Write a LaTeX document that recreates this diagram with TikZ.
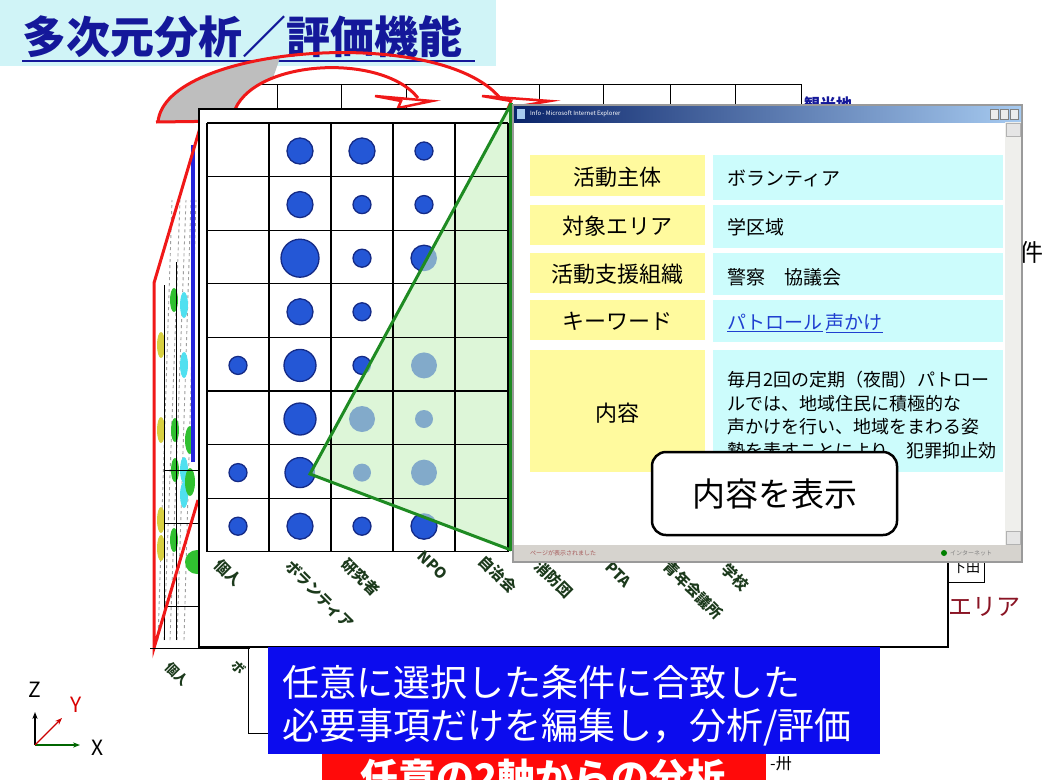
\documentclass[tikz,border=0pt]{standalone}
\usepackage{fontspec}
\setmainfont{Noto Sans CJK JP}
\usetikzlibrary{arrows.meta}
\definecolor{titleband}{HTML}{D0F4F7}
\definecolor{titlecol}{HTML}{14189A}
\definecolor{ribred}{HTML}{F01818}
\definecolor{ribgray}{HTML}{BEBEBE}
\definecolor{sideblue}{HTML}{2424DC}
\definecolor{bubblue}{HTML}{2457D6}
\definecolor{bubedge}{HTML}{142A86}
\definecolor{fadeblue}{HTML}{82AACA}
\definecolor{greenfill}{HTML}{DDF6D8}
\definecolor{greenline}{HTML}{1E8B22}
\definecolor{labgreen}{HTML}{1C3A1C}
\definecolor{tabyellow}{HTML}{FFFA9E}
\definecolor{tabcyan}{HTML}{CCFCFC}
\definecolor{linkblue}{HTML}{1F3FD0}
\definecolor{bluebox}{HTML}{0C0CEE}
\definecolor{redbox}{HTML}{FF0A0A}
\definecolor{wingray}{HTML}{9A9A9A}
\definecolor{statusgray}{HTML}{D6D3CE}
\definecolor{tbdark}{HTML}{0A246A}
\definecolor{tblight}{HTML}{A6CAF0}
\definecolor{scrollgray}{HTML}{EFEFEC}
\definecolor{darkred}{HTML}{8A1424}
\definecolor{yblob}{HTML}{D8D040}
\definecolor{gblob}{HTML}{30C030}
\definecolor{cblob}{HTML}{50E0F0}
\newcommand{\jfs}[2]{\fontsize{#1}{#2}\selectfont}
\begin{document}
\begin{tikzpicture}[x=1pt,y=-1pt,
  bub/.style={fill=bubblue,draw=bubedge,line width=1.3pt},
  fbub/.style={fill=fadeblue},
  collab/.style={rotate=-45,anchor=north west,inner sep=0pt,font=\jfs{15}{15}\bfseries,text=labgreen},
  backlab/.style={rotate=-45,anchor=north west,inner sep=0pt,font=\jfs{13}{13}\bfseries,text=labgreen},
  ylw/.style={fill=tabyellow},
  cyn/.style={fill=tabcyan},
  ylwtxt/.style={font=\jfs{22}{26},anchor=center,inner sep=0pt},
  cyntxt/.style={font=\jfs{19}{22},anchor=west,inner sep=0pt},
  gridln/.style={draw=black,line width=1.3pt},
  redln/.style={draw=ribred,line width=3pt},
  arrowhd/.style={fill=white,draw=ribred,line width=2.5pt,line join=miter},
]
\useasboundingbox (0,0) rectangle (1052,780);
\fill[white] (0,0) rectangle (1052,780);

% title band
\fill[titleband] (0,0) rectangle (496,66);
\node[font=\jfs{44}{48}\bfseries,text=titlecol,anchor=west,inner sep=0pt] (title) at (22,37) {多次元分析／評価機能};
\draw[titlecol,line width=1.6pt] (22,61) -- (475,61);

% back top strip
\draw[line width=1pt] (250,84) -- (801,84);
\foreach \x in {277,341,406,539,603,670,735,801} \draw[line width=1pt] (\x,84) -- (\x,109);
\node[font=\jfs{16}{16}\bfseries,text=titlecol,anchor=west,inner sep=0pt] (kanko) at (804,104) {観光地};

% curved 3D arrows
\begin{scope}
\clip (0,0) -- (300,0) -- (255,130) -- (0,130) -- cycle;
\fill[ribgray] (158,122) .. controls (165,45) and (440,25) .. (500,98) -- (418,98) .. controls (380,50) and (240,60) .. (232,120) -- cycle;
\end{scope}
\draw[redln] (158,122) .. controls (165,45) and (440,25) .. (500,98);
\draw[redln] (232,120) .. controls (240,60) and (380,50) .. (418,98);
\draw[redln] (156,122) -- (232,121);
\filldraw[arrowhd] (482,96) -- (550,101) -- (508,108) -- (511,101) -- cycle;
\filldraw[arrowhd] (375,96) -- (432,101) -- (398,108) -- (401,101) -- cycle;

% left side panel
\foreach \a/\b in {158/172,164/180,170/186,177/191,184/196}
  \draw[gray!75,dashed,line width=0.9pt] (\a,640) -- (\b,200);
\foreach \p in {(161,345),(161,430),(161,520),(161,548)} \fill[yblob] \p ellipse (4 and 13);
\foreach \p in {(174,300),(175,430),(175,470),(174,540)} \fill[gblob] \p ellipse (4 and 12);
\foreach \p in {(184,305),(184,365),(184,470),(184,495)} \fill[cblob] \p ellipse (4 and 13);
\foreach \p in {(190,440),(190,482)} \fill[gblob] \p ellipse (5 and 14);
\draw[line width=1pt] (164,285) -- (164,640);
\draw[line width=1pt] (176,262) -- (176,640);
\foreach \y in {470,523,606} \draw[line width=1pt] (164,\y) -- (199,\y);
\fill[gblob] (197,562) circle (12);
\draw[sideblue,line width=4pt] (193,145) -- (193,462);
\draw[redln] (200,128) -- (154,283) -- (154,648) -- (198,500);
\draw[line width=1pt] (150,648) -- (250,648);

% back panel remnants bottom
\draw[line width=1pt] (248,647) -- (248,733) -- (272,733);
\node[backlab] (bl1) at (172,660) {個人};
\node[backlab] (bl2) at (238,658) {ボ};

% right side back fragments
\draw[line width=1pt] (948,548) rectangle (984,582);
\node[font=\jfs{14}{14},anchor=center,inner sep=0pt] (shimoda) at (966,568) {下田};
\node[font=\jfs{24}{24},text=darkred,anchor=west,inner sep=0pt] (area) at (948,607) {エリア};
\node[font=\jfs{24}{24},anchor=center,inner sep=0pt] (ken) at (1031,252) {件};

% front panel
\filldraw[fill=white,draw=black,line width=1.2pt] (199,109) rectangle (948,647);
\foreach \x in {207,269,331,393,455,508} \draw[gridln] (\x,123) -- (\x,552);
\foreach \y in {123,176.6,230.2,283.8,337.4,391,444.6,498.2,551.8} \draw[gridln] (207,\y) -- (508,\y);
\foreach \c/\r/\s in {2/1/13,3/1/13,4/1/9,2/2/13,3/2/9,4/2/9,2/3/19,3/3/9,4/3/13,2/4/13,3/4/9,1/5/9,2/5/16,3/5/9,4/5/13,2/6/16,3/6/13,4/6/9,1/7/9,2/7/15,3/7/9,4/7/13,1/8/9,2/8/13,3/8/9,4/8/13}
  \filldraw[bub] ({238+(\c-1)*62},{151+(\r-1)*53.6}) circle (\s);
% green selection overlay
\begin{scope}
\clip (310,474) -- (511,104) -- (511,550) -- cycle;
\fill[greenfill] (200,100) rectangle (520,560);
\foreach \x in {269,331,393,455,508} \draw[gridln] (\x,123) -- (\x,552);
\foreach \y in {123,176.6,230.2,283.8,337.4,391,444.6,498.2,551.8} \draw[gridln] (207,\y) -- (508,\y);
\foreach \c/\r/\s in {2/1/13,3/1/13,4/1/9,2/2/13,3/2/9,4/2/9,2/3/19,3/3/9,4/3/13,2/4/13,3/4/9,1/5/9,2/5/16,3/5/9,4/5/13,2/6/16,3/6/13,4/6/9,1/7/9,2/7/15,3/7/9,4/7/13,1/8/9,2/8/13,3/8/9,4/8/13}
  \fill[fbub] ({238+(\c-1)*62},{151+(\r-1)*53.6}) circle (\s);
\end{scope}
\draw[greenline,line width=3pt] (511,104) -- (310,474) -- (511,550);
\draw[greenline,line width=4pt] (511,103) -- (511,551);

% column labels
\node[collab] (l1) at (223,557) {個人};
\node[collab] (l2) at (293,558) {ボランティア};
\node[collab] (l3) at (350,556) {研究者};
\node[collab] (l4) at (425,549) {NPO};
\node[collab] (l5) at (487,553) {自治会};
\node[collab] (l6) at (543,558) {消防団};
\node[collab] (l7) at (612,560) {PTA};
\node[collab] (l8) at (672,558) {青年会議所};
\node[collab] (l9) at (730,561) {学校};

% browser window
\filldraw[fill=white,draw=wingray,line width=1.2pt] (513,105) rectangle (1022,562);
\shade[left color=tbdark,right color=tblight] (514,106) rectangle (1021,122);
\fill[tblight] (517,109) rectangle (525,119);
\node[font=\jfs{6}{6},text=white,anchor=west,inner sep=0pt] (wtitle) at (530,114) {Info - Microsoft Internet Explorer};
\foreach \x in {990,1000,1010} \filldraw[fill=gray!15,draw=gray,line width=0.5pt] (\x,109) rectangle (\x+8,119);
\fill[scrollgray] (1005,122) rectangle (1021,545);
\filldraw[fill=gray!20,draw=gray!60,line width=0.5pt] (1006,123) rectangle (1020,136);
\filldraw[fill=gray!20,draw=gray!60,line width=0.5pt] (1006,531) rectangle (1020,544);
\fill[statusgray] (514,545) rectangle (1021,561);
\node[font=\jfs{6}{6},text=gray!70!red,anchor=west,inner sep=0pt] (wstatus) at (530,553) {ページが表示されました};
\fill[green!50!black] (944,553) circle (3);
\node[font=\jfs{6}{6},text=gray,anchor=west,inner sep=0pt] (wzone) at (950,553) {インターネット};

% table
\fill[ylw] (530,155) rectangle (705,196);
\fill[cyn] (713,155) rectangle (1003,200);
\fill[ylw] (530,205) rectangle (705,245);
\fill[cyn] (713,205) rectangle (1003,248);
\fill[ylw] (530,253) rectangle (705,293);
\fill[cyn] (713,253) rectangle (1003,295);
\fill[ylw] (530,300) rectangle (705,340);
\fill[cyn] (713,300) rectangle (1003,342);
\fill[ylw] (530,350) rectangle (705,472);
\fill[cyn] (713,350) rectangle (1003,472);
\node[ylwtxt] (k1) at (617,177) {活動主体};
\node[ylwtxt] (k2) at (617,226) {対象エリア};
\node[ylwtxt] (k3) at (617,274) {活動支援組織};
\node[ylwtxt] (k4) at (617,321) {キーワード};
\node[ylwtxt] (k5) at (617,413) {内容};
\node[cyntxt] (v1) at (727,178) {ボランティア};
\node[cyntxt] (v2) at (727,227) {学区域};
\node[cyntxt] (v3) at (727,277) {警察　協議会};
\node[cyntxt,text=linkblue] (v4) at (727,323) {\underline{パトロール}\,\underline{声かけ}};
\node[anchor=north west,inner sep=0pt,align=left,font=\jfs{18}{23.5}] (v5) at (727,371)
  {毎月2回の定期（夜間）パトロー\\ルでは、地域住民に積極的な\\声かけを行い、地域をまわる姿\\勢を表すことにより、犯罪抑止効};

% callout
\node[draw=black,line width=2.5pt,rounded corners=14pt,fill=white,minimum width=245pt,minimum height=83pt,font=\jfs{33}{36}] (callout) at (774.5,493.5) {内容を表示};

% bottom boxes
\fill[redbox] (322,745) rectangle (766,780);
\node[font=\jfs{38}{40}\bfseries,text=white,anchor=center,inner sep=0pt] (redtxt) at (543,777) {任意の2軸からの分析};
\node[font=\jfs{16}{16},anchor=west,inner sep=0pt] (frag) at (770,764) {-卅};
\fill[bluebox] (268,647) rectangle (880,754);
\node[font=\jfs{37}{40},text=white,anchor=west,inner sep=0pt] (b1) at (282,682) {任意に選択した条件に合致した};
\node[font=\jfs{37}{40},text=white,anchor=west,inner sep=0pt] (b2) at (282,727) {必要事項だけを編集し，分析/評価};

% axis icon
\coordinate (o) at (35,745);
\coordinate (zend) at (35,712);
\coordinate (xend) at (80,745);
\coordinate (yend) at (62,718);
\draw[-{Stealth[length=7pt]},line width=1.6pt] (o) -- (zend);
\draw[-{Stealth[length=7pt]},line width=1.6pt,green!40!black] (o) -- (xend);
\draw[-{Stealth[length=7pt]},line width=1.3pt,red!80!black] (o) -- (yend);
\node[font=\jfs{21}{21},inner sep=0pt] (zl) at (35,690) {Z};
\node[font=\jfs{21}{21},inner sep=0pt,text=red!85!black] (yl) at (76,705) {Y};
\node[font=\jfs{21}{21},inner sep=0pt] (xl) at (98,748) {X};
\end{tikzpicture}
\end{document}
